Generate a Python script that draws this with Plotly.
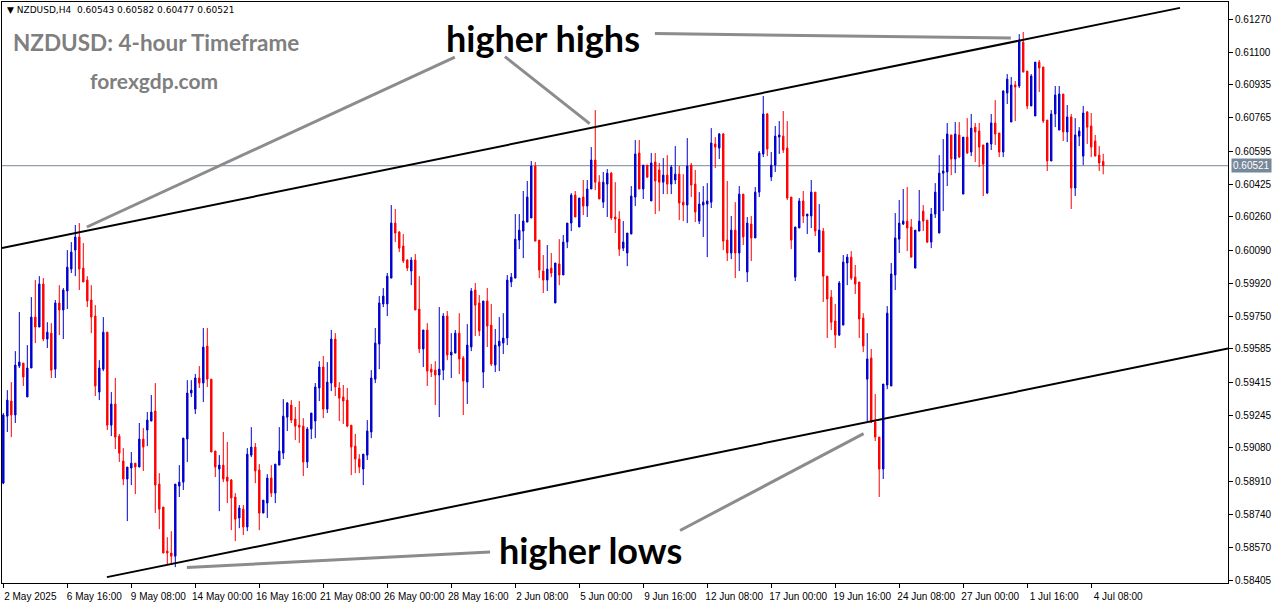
import plotly.graph_objects as go

# ---------------- data (NZDUSD H4) ----------------
opens = [0.58900,0.59242,0.59319,0.59248,0.59498,0.59513,0.59340,0.59488,0.59748,0.59697,
0.59917,0.59636,0.59666,0.59482,0.59820,0.59784,0.59881,0.59993,0.60090,0.60157,
0.59998,0.59937,0.59835,0.59753,0.59365,0.59482,0.59671,0.59196,0.59304,0.59140,
0.59013,0.58921,0.58977,0.59002,0.58982,0.59125,0.59171,0.59217,0.59268,0.58895,
0.58778,0.58553,0.58543,0.58527,0.58885,0.58905,0.59125,0.59360,0.59278,0.59437,
0.59411,0.59600,0.59431,0.59064,0.58972,0.58992,0.58931,0.58916,0.58829,0.58722,
0.58767,0.58676,0.59043,0.59084,0.58967,0.58747,0.58798,0.58926,0.58849,0.58992,
0.59053,0.59237,0.59299,0.59227,0.59196,0.59191,0.59008,0.59176,0.59217,0.59386,
0.59493,0.59278,0.59411,0.59636,0.59386,0.59340,0.59324,0.59196,0.59089,0.59023,
0.58972,0.59043,0.59161,0.59431,0.59610,0.59815,0.59815,0.59947,0.60228,0.60182,
0.60111,0.60039,0.59983,0.60039,0.59789,0.59585,0.59682,0.59482,0.59477,0.59452,
0.59477,0.59753,0.59554,0.59564,0.59666,0.59539,0.59416,0.59595,0.59886,0.59820,
0.59467,0.59830,0.59707,0.59503,0.59600,0.59615,0.59641,0.59927,0.59947,0.60141,
0.60187,0.60233,0.60254,0.60519,0.60141,0.59983,0.59937,0.59998,0.59820,0.60019,
0.59963,0.60131,0.60228,0.60371,0.60208,0.60361,0.60315,0.60402,0.60550,0.60437,
0.60335,0.60427,0.60483,0.60259,0.60249,0.60100,0.60075,0.60172,0.60361,0.60586,
0.60402,0.60524,0.60341,0.60540,0.60499,0.60437,0.60473,0.60427,0.60448,0.60478,
0.60335,0.60320,0.60524,0.60427,0.60238,0.60320,0.60325,0.60335,0.60632,0.60611,
0.60683,0.60141,0.60075,0.60192,0.60075,0.60376,0.59978,0.60223,0.60152,0.60386,
0.60581,0.60785,0.60463,0.60524,0.60667,0.60672,0.60611,0.60361,0.59952,0.60203,
0.60341,0.60264,0.60264,0.60386,0.60080,0.60187,0.59957,0.59850,0.59728,0.59656,
0.59707,0.60024,0.60054,0.59952,0.59927,0.59743,0.59431,0.59539,0.59212,0.59135,
0.58972,0.59401,0.59396,0.59963,0.60146,0.60223,0.60238,0.60208,0.59998,0.60187,
0.60289,0.60243,0.60131,0.60274,0.60177,0.60483,0.60489,0.60678,0.60555,0.60678,
0.60376,0.60667,0.60591,0.60718,0.60698,0.60627,0.60381,0.60632,0.60739,0.60688,
0.60591,0.60892,0.60744,0.60933,0.60928,0.61152,0.61004,0.60826,0.60775,0.61050,
0.61025,0.60754,0.60545,0.60785,0.60703,0.60887,0.60693,0.60770,0.60407,0.60672,
0.60570,0.60795,0.60724,0.60647,0.60575,0.60543]

highs = [0.59258,0.59375,0.59416,0.59574,0.59774,0.59513,0.59605,0.59850,0.59937,0.59957,
0.59947,0.59722,0.59717,0.59835,0.59911,0.59896,0.60090,0.60131,0.60218,0.60228,
0.60126,0.59957,0.59911,0.59809,0.59528,0.59748,0.59671,0.59365,0.59437,0.59151,
0.59079,0.58982,0.59059,0.59002,0.59207,0.59181,0.59263,0.59350,0.59411,0.58951,
0.58778,0.58624,0.58655,0.58895,0.58992,0.59130,0.59426,0.59426,0.59457,0.59498,
0.59692,0.59692,0.59431,0.59064,0.59043,0.59161,0.59110,0.58921,0.58849,0.58788,
0.58788,0.59079,0.59186,0.59105,0.58997,0.58813,0.58946,0.58992,0.58997,0.59186,
0.59329,0.59314,0.59324,0.59289,0.59319,0.59232,0.59186,0.59258,0.59411,0.59523,
0.59549,0.59518,0.59682,0.59666,0.59416,0.59401,0.59386,0.59196,0.59151,0.59048,
0.59048,0.59222,0.59477,0.59692,0.59855,0.59896,0.59973,0.60320,0.60300,0.60187,
0.60172,0.60044,0.60054,0.60070,0.59957,0.59682,0.59717,0.59508,0.59523,0.59799,
0.59768,0.59779,0.59666,0.59682,0.59768,0.59549,0.59712,0.59896,0.59922,0.59860,
0.59830,0.59896,0.59815,0.59687,0.59748,0.59768,0.59963,0.59973,0.60274,0.60274,
0.60392,0.60443,0.60545,0.60540,0.60141,0.60065,0.60116,0.60075,0.60024,0.60146,
0.60167,0.60228,0.60381,0.60392,0.60356,0.60448,0.60448,0.60616,0.60805,0.60473,
0.60489,0.60504,0.60489,0.60437,0.60289,0.60238,0.60177,0.60417,0.60652,0.60652,
0.60524,0.60524,0.60586,0.60586,0.60535,0.60560,0.60575,0.60524,0.60621,0.60519,
0.60478,0.60662,0.60535,0.60499,0.60386,0.60417,0.60432,0.60713,0.60667,0.60688,
0.60688,0.60443,0.60264,0.60335,0.60417,0.60376,0.60259,0.60264,0.60412,0.60596,
0.60877,0.60790,0.60591,0.60724,0.60749,0.60800,0.60749,0.60361,0.60208,0.60356,
0.60392,0.60274,0.60448,0.60386,0.60325,0.60203,0.59957,0.59886,0.59815,0.59932,
0.60065,0.60070,0.60085,0.60014,0.59927,0.59768,0.59666,0.59585,0.59355,0.59135,
0.59406,0.59804,0.60024,0.60279,0.60346,0.60402,0.60412,0.60249,0.60192,0.60397,
0.60320,0.60243,0.60305,0.60432,0.60575,0.60657,0.60739,0.60678,0.60744,0.60744,
0.60667,0.60764,0.60785,0.60739,0.60739,0.60627,0.60637,0.60785,0.60856,0.60688,
0.60907,0.60989,0.60974,0.60953,0.61193,0.61204,0.61004,0.60989,0.61050,0.61061,
0.61025,0.60754,0.60805,0.60928,0.60928,0.60887,0.60831,0.60785,0.60764,0.60718,
0.60826,0.60800,0.60790,0.60678,0.60621,0.60582]

lows = [0.58895,0.59161,0.59135,0.59207,0.59488,0.59396,0.59340,0.59488,0.59615,0.59697,
0.59625,0.59590,0.59437,0.59437,0.59656,0.59636,0.59789,0.59973,0.59957,0.59886,
0.59927,0.59799,0.59666,0.59345,0.59324,0.59472,0.59171,0.59140,0.59074,0.59008,
0.58890,0.58706,0.58890,0.58844,0.58982,0.58962,0.59089,0.59217,0.58747,0.58665,
0.58543,0.58481,0.58481,0.58471,0.58829,0.58865,0.59008,0.59340,0.59253,0.59386,
0.59314,0.59391,0.59059,0.58931,0.58757,0.58905,0.58798,0.58660,0.58604,0.58670,
0.58635,0.58655,0.59033,0.58900,0.58660,0.58747,0.58722,0.58829,0.58798,0.58992,
0.59023,0.59166,0.59207,0.59120,0.59105,0.58936,0.58977,0.59125,0.59130,0.59319,
0.59232,0.59258,0.59370,0.59345,0.59217,0.59202,0.59186,0.58941,0.58951,0.58951,
0.58890,0.59018,0.59130,0.59411,0.59482,0.59799,0.59753,0.59947,0.60131,0.60080,
0.60024,0.59983,0.59911,0.59784,0.59564,0.59493,0.59396,0.59442,0.59299,0.59237,
0.59426,0.59528,0.59437,0.59564,0.59457,0.59248,0.59304,0.59574,0.59651,0.59651,
0.59386,0.59595,0.59498,0.59467,0.59472,0.59559,0.59605,0.59901,0.59947,0.60095,
0.60049,0.60233,0.60254,0.60136,0.59947,0.59871,0.59881,0.59952,0.59820,0.59911,
0.59963,0.60100,0.60187,0.60259,0.60208,0.60269,0.60259,0.60402,0.60397,0.60351,
0.60305,0.60259,0.60243,0.60177,0.60060,0.60085,0.60008,0.60172,0.60315,0.60402,
0.60351,0.60458,0.60341,0.60274,0.60289,0.60376,0.60376,0.60376,0.60427,0.60243,
0.60238,0.60228,0.60361,0.60233,0.60223,0.60157,0.60054,0.60305,0.60509,0.60555,
0.60090,0.60034,0.60044,0.59947,0.59983,0.60116,0.59927,0.60034,0.60152,0.60361,
0.60565,0.60570,0.60443,0.60489,0.60581,0.60586,0.60346,0.60095,0.59932,0.60203,
0.60228,0.60172,0.60203,0.60162,0.60080,0.59825,0.59641,0.59682,0.59590,0.59651,
0.59707,0.59911,0.59937,0.59866,0.59641,0.59569,0.59212,0.59207,0.59115,0.58829,
0.58921,0.59380,0.59396,0.59886,0.60075,0.60218,0.60085,0.60054,0.59998,0.60187,
0.60187,0.60126,0.60100,0.60254,0.60177,0.60289,0.60417,0.60473,0.60483,0.60560,
0.60376,0.60581,0.60570,0.60540,0.60514,0.60366,0.60376,0.60601,0.60627,0.60565,
0.60565,0.60836,0.60744,0.60749,0.60918,0.60999,0.60810,0.60826,0.60775,0.60897,
0.60739,0.60494,0.60545,0.60718,0.60703,0.60647,0.60642,0.60300,0.60366,0.60621,
0.60524,0.60632,0.60565,0.60570,0.60494,0.60477]

closes = [0.59248,0.59324,0.59248,0.59503,0.59518,0.59442,0.59488,0.59748,0.59697,0.59917,
0.59636,0.59671,0.59477,0.59820,0.59784,0.59886,0.60003,0.60080,0.60157,0.59993,
0.59927,0.59830,0.59748,0.59396,0.59488,0.59671,0.59196,0.59304,0.59135,0.59053,
0.58921,0.58982,0.59002,0.58982,0.59125,0.59084,0.59222,0.59263,0.58890,0.58767,
0.58543,0.58543,0.58527,0.58895,0.58905,0.59130,0.59360,0.59375,0.59437,0.59411,
0.59595,0.59431,0.59059,0.58982,0.58992,0.58921,0.58910,0.58824,0.58716,0.58773,
0.58676,0.59048,0.59084,0.58962,0.58747,0.58813,0.58926,0.58849,0.58997,0.59064,
0.59242,0.59309,0.59222,0.59191,0.59186,0.59008,0.59176,0.59258,0.59391,0.59493,
0.59278,0.59416,0.59636,0.59391,0.59334,0.59319,0.59191,0.59084,0.59023,0.58982,
0.59048,0.59166,0.59437,0.59615,0.59820,0.59855,0.59957,0.60228,0.60177,0.60100,
0.60034,0.59998,0.60039,0.59784,0.59585,0.59682,0.59472,0.59467,0.59452,0.59482,
0.59753,0.59554,0.59569,0.59666,0.59534,0.59421,0.59605,0.59881,0.59809,0.59677,
0.59830,0.59702,0.59508,0.59605,0.59625,0.59641,0.59937,0.59952,0.60146,0.60192,
0.60238,0.60361,0.60519,0.60136,0.59988,0.59937,0.59993,0.59973,0.60024,0.59963,
0.60131,0.60228,0.60371,0.60259,0.60356,0.60315,0.60402,0.60550,0.60437,0.60351,
0.60437,0.60483,0.60254,0.60249,0.60095,0.60131,0.60177,0.60366,0.60581,0.60402,
0.60524,0.60463,0.60535,0.60443,0.60437,0.60473,0.60427,0.60514,0.60478,0.60330,
0.60320,0.60519,0.60422,0.60284,0.60325,0.60335,0.60341,0.60637,0.60616,0.60683,
0.60136,0.60075,0.60192,0.60075,0.60376,0.60157,0.60228,0.60152,0.60386,0.60586,
0.60785,0.60606,0.60524,0.60672,0.60678,0.60601,0.60356,0.60141,0.60208,0.60341,
0.60264,0.60274,0.60386,0.60187,0.60192,0.59957,0.59840,0.59722,0.59656,0.59922,
0.60029,0.60054,0.59947,0.59917,0.59738,0.59600,0.59534,0.59212,0.59135,0.58972,
0.59406,0.59768,0.59968,0.60152,0.60228,0.60238,0.60203,0.60054,0.60192,0.60238,
0.60238,0.60131,0.60274,0.60386,0.60483,0.60494,0.60683,0.60555,0.60683,0.60565,
0.60667,0.60586,0.60713,0.60693,0.60616,0.60529,0.60637,0.60739,0.60683,0.60591,
0.60902,0.60963,0.60933,0.60923,0.61163,0.60999,0.60826,0.60979,0.61050,0.61020,
0.60749,0.60545,0.60785,0.60882,0.60887,0.60693,0.60770,0.60407,0.60678,0.60698,
0.60790,0.60718,0.60616,0.60570,0.60535,0.60521]

# x-axis labels (every 16th H4 bar)
date_ticks = [0, 16, 32, 48, 64, 80, 96, 112, 128, 144, 160, 176, 192, 208, 224, 240, 256, 272]
date_labels = ["2 May 2025", "6 May 16:00", "9 May 08:00", "14 May 00:00", "16 May 16:00",
               "21 May 08:00", "26 May 00:00", "28 May 16:00", "2 Jun 08:00", "5 Jun 00:00",
               "9 Jun 16:00", "12 Jun 08:00", "17 Jun 00:00", "19 Jun 16:00", "24 Jun 08:00",
               "27 Jun 00:00", "1 Jul 16:00", "4 Jul 08:00"]
price_ticks = [0.61270, 0.61100, 0.60935, 0.60765, 0.60595, 0.60425, 0.60260, 0.60090, 0.59920,
               0.59750, 0.59585, 0.59415, 0.59245, 0.59080, 0.58910, 0.58740, 0.58570, 0.58405]

# channel trend lines: (bar, price) end points
upper_line = [(-0.33, 0.60101), (294.2, 0.61327)]
lower_line = [(25.9, 0.58420), (306.2, 0.59587)]
# grey pointer lines: (bar, price) pairs
pointer_lines = [
    [(20.9, 0.60208), (112.9, 0.61076)],
    [(125.4, 0.61078), (146.6, 0.60736)],
    [(162.9, 0.61196), (251.9, 0.61173)],
    [(45.9, 0.58469), (121.7, 0.58548)],
    [(169.2, 0.58658), (215.1, 0.59153)],
]
last_price = closes[-1]

x = list(range(len(opens)))
BLUE = "#0000CD"
RED = "#FF0000"

fig = go.Figure()
fig.add_trace(go.Candlestick(
    x=x, open=opens, high=highs, low=lows, close=closes,
    increasing=dict(line=dict(color=BLUE, width=1), fillcolor=BLUE),
    decreasing=dict(line=dict(color=RED, width=1), fillcolor=RED),
    whiskerwidth=0, showlegend=False, hoverinfo="skip",
))

shapes = []
for (p0, p1) in [upper_line, lower_line]:
    shapes.append(dict(type="line", xref="x", yref="y", x0=p0[0], y0=p0[1], x1=p1[0], y1=p1[1],
                       line=dict(color="black", width=2)))
for (p0, p1) in pointer_lines:
    shapes.append(dict(type="line", xref="x", yref="y", x0=p0[0], y0=p0[1], x1=p1[0], y1=p1[1],
                       line=dict(color="#8c8c8c", width=3)))
shapes.append(dict(type="line", xref="paper", yref="y", x0=0, x1=1, y0=last_price, y1=last_price,
                   line=dict(color="#778899", width=1), layer="below"))

annotations = [
    dict(text="<b>higher highs</b>", x=0.4413, y=0.938, xref="paper", yref="paper",
         showarrow=False, font=dict(family="Lato", size=36, color="black"),
         xanchor="center", yanchor="middle"),
    dict(text="<b>higher lows</b>", x=0.4804, y=0.0568, xref="paper", yref="paper",
         showarrow=False, font=dict(family="Lato", size=36, color="black"),
         xanchor="center", yanchor="middle"),
    dict(text="<b>NZDUSD: 4-hour Timeframe</b>", x=0.009, y=0.931, xref="paper", yref="paper",
         showarrow=False, font=dict(family="Lato", size=22.5, color="#7f7f7f"),
         xanchor="left", yanchor="middle", xshift=-2),
    dict(text="<b>forexgdp.com</b>", x=0.0718, y=0.8657, xref="paper", yref="paper",
         showarrow=False, font=dict(family="Lato", size=21, color="#7f7f7f"),
         xanchor="left", yanchor="middle", xshift=-2),
    dict(text="▼ NZDUSD,H4  %.5f %.5f %.5f %.5f" % (opens[-1], highs[-1], lows[-1], closes[-1]),
         x=0.0025, y=0.986, xref="paper", yref="paper", showarrow=False,
         font=dict(family="DejaVu Sans", size=9, color="black"), xanchor="left", yanchor="middle"),
    dict(text="%.5f" % last_price, x=1.0, y=last_price, xref="paper", yref="y", showarrow=False,
         font=dict(family="Liberation Sans", size=10, color="white"), bgcolor="#778899",
         xanchor="left", yanchor="middle", xshift=3, borderpad=1),
]

fig.update_layout(
    width=1276, height=604,
    margin=dict(l=2, r=48, t=2, b=21),
    paper_bgcolor="white", plot_bgcolor="white",
    boxgap=0.5,
    showlegend=False,
    shapes=shapes, annotations=annotations,
    xaxis=dict(range=[-0.33, 306.2], rangeslider=dict(visible=False), showgrid=False, zeroline=False,
               showline=True, mirror=True, linecolor="black", linewidth=1,
               ticks="outside", ticklen=4, tickcolor="black",
               tickvals=date_ticks, ticktext=date_labels, ticklabelshift=27,
               tickfont=dict(family="Liberation Sans", size=10, color="black")),
    yaxis=dict(range=[0.58390, 0.61357], side="right", showgrid=False, zeroline=False,
               showline=True, mirror=True, linecolor="black", linewidth=1,
               ticks="outside", ticklen=4, tickcolor="black",
               tickvals=price_ticks, ticktext=["%.5f" % v for v in price_ticks],
               tickfont=dict(family="Liberation Sans", size=10, color="black")),
)

fig.write_html("out.html", config={"displayModeBar": False},
               post_script="document.body.style.margin='0';document.body.style.overflow='hidden';")
